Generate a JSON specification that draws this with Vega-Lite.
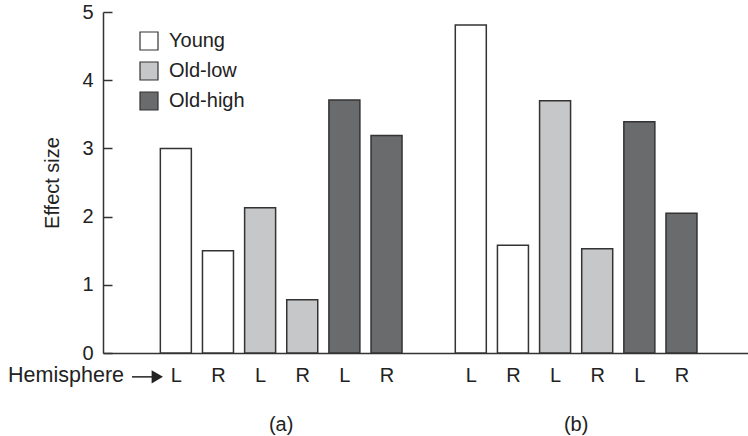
{
  "$schema": "https://vega.github.io/schema/vega-lite/v6.json",
  "autosize": {"type": "none"},
  "width": 645,
  "height": 341,
  "padding": {"left": 103, "top": 12, "right": 0, "bottom": 83},
  "background": "white",
  "config": {
    "view": {"stroke": null},
    "font": "Liberation Sans",
    "axis": {"labelFont": "Liberation Sans", "titleFont": "Liberation Sans", "labelColor": "#222", "titleColor": "#222", "domainColor": "#333", "tickColor": "#333", "domainWidth": 1.5, "tickWidth": 1.5, "grid": false}
  },
  "datasets": {
    "bars": [
      {"panel": "a", "group": "Young", "hemisphere": "L", "slot": 0, "effect": 3.0},
      {"panel": "a", "group": "Young", "hemisphere": "R", "slot": 1, "effect": 1.5},
      {"panel": "a", "group": "Old-low", "hemisphere": "L", "slot": 2, "effect": 2.13},
      {"panel": "a", "group": "Old-low", "hemisphere": "R", "slot": 3, "effect": 0.78},
      {"panel": "a", "group": "Old-high", "hemisphere": "L", "slot": 4, "effect": 3.71},
      {"panel": "a", "group": "Old-high", "hemisphere": "R", "slot": 5, "effect": 3.19},
      {"panel": "b", "group": "Young", "hemisphere": "L", "slot": 7, "effect": 4.81},
      {"panel": "b", "group": "Young", "hemisphere": "R", "slot": 8, "effect": 1.58},
      {"panel": "b", "group": "Old-low", "hemisphere": "L", "slot": 9, "effect": 3.7},
      {"panel": "b", "group": "Old-low", "hemisphere": "R", "slot": 10, "effect": 1.53},
      {"panel": "b", "group": "Old-high", "hemisphere": "L", "slot": 11, "effect": 3.39},
      {"panel": "b", "group": "Old-high", "hemisphere": "R", "slot": 12, "effect": 2.05}
    ],
    "panels": [
      {"label": "(a)", "slot": 2.5, "level": -1.05},
      {"label": "(b)", "slot": 9.5, "level": -1.05}
    ],
    "hemi": [
      {"label": "Hemisphere", "slot": -1.23, "level": -0.33}
    ],
    "arrow": [
      {"from": -1.04, "to": -0.5, "head": -0.44, "level": -0.35}
    ]
  },
  "layer": [
    {
      "data": {"name": "bars"},
      "mark": {"type": "bar", "size": 31, "stroke": "#333", "strokeWidth": 1.5},
      "encoding": {
        "x": {
          "field": "slot", "type": "quantitative",
          "scale": {"domain": [-1.61, 13.46], "nice": false, "zero": false},
          "axis": {
            "title": null, "ticks": false, "values": [0, 1, 2, 3, 4, 5, 7, 8, 9, 10, 11, 12],
            "labelExpr": "indexof([0,2,4,7,9,11], datum.value) >= 0 ? 'L' : 'R'",
            "labelFontSize": 20, "labelPadding": 12, "labelFlush": false
          }
        },
        "y": {
          "field": "effect", "type": "quantitative",
          "scale": {"domain": [0, 5], "nice": false},
          "axis": {
            "title": "Effect size", "values": [0, 1, 2, 3, 4, 5], "format": "d", "tickSize": -9,
            "labelFontSize": 20, "labelPadding": 19, "titleFontSize": 20, "titleFontWeight": "normal", "titlePadding": 19
          }
        },
        "fill": {
          "field": "group", "type": "nominal",
          "scale": {"domain": ["Young", "Old-low", "Old-high"], "range": ["#ffffff", "#c6c7c9", "#6a6b6d"]},
          "legend": {
            "title": null, "orient": "none", "legendX": 36, "legendY": 19,
            "symbolType": "square", "symbolSize": 324, "symbolStrokeColor": "#333", "symbolStrokeWidth": 1.2,
            "labelFontSize": 20, "labelColor": "#222", "labelOffset": 10, "rowPadding": 6
          }
        }
      }
    },
    {
      "mark": {"type": "rule", "stroke": "#333", "strokeWidth": 1.5},
      "encoding": {"y": {"datum": 5}}
    },
    {
      "data": {"name": "panels"},
      "mark": {"type": "text", "fontSize": 20, "color": "#222", "baseline": "middle", "align": "center"},
      "encoding": {
        "x": {"field": "slot", "type": "quantitative"},
        "y": {"field": "level", "type": "quantitative"},
        "text": {"field": "label"}
      }
    },
    {
      "data": {"name": "hemi"},
      "mark": {"type": "text", "fontSize": 21.5, "color": "#222", "baseline": "middle", "align": "right"},
      "encoding": {
        "x": {"field": "slot", "type": "quantitative"},
        "y": {"field": "level", "type": "quantitative"},
        "text": {"field": "label"}
      }
    },
    {
      "data": {"name": "arrow"},
      "mark": {"type": "rule", "stroke": "#222", "strokeWidth": 1.5},
      "encoding": {
        "x": {"field": "from", "type": "quantitative"},
        "x2": {"field": "to"},
        "y": {"field": "level", "type": "quantitative"}
      }
    },
    {
      "data": {"name": "arrow"},
      "mark": {"type": "point", "shape": "triangle-right", "filled": true, "color": "#222", "size": 170, "opacity": 1},
      "encoding": {
        "x": {"field": "head", "type": "quantitative"},
        "y": {"field": "level", "type": "quantitative"}
      }
    }
  ]
}
